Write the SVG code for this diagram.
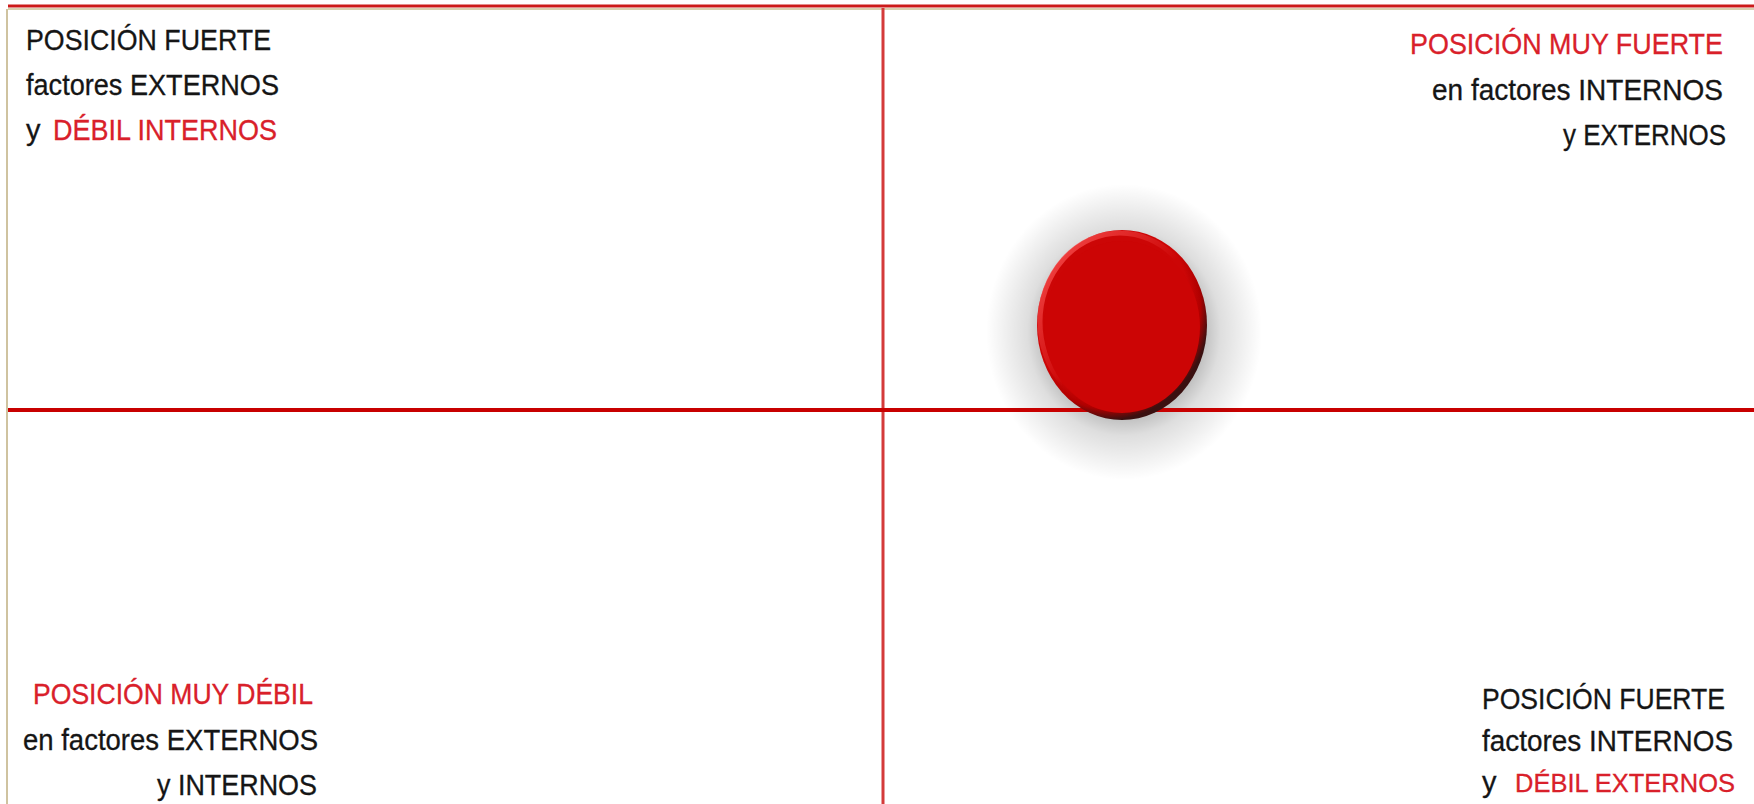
<svg xmlns="http://www.w3.org/2000/svg" width="1754" height="804" viewBox="0 0 1754 804">
<style>
  text { font-family: "Liberation Sans", Arial, sans-serif; font-size: 29px; fill: #151515; stroke: #151515; stroke-width: 0.3px; }
  .red { fill: #d9202a; stroke: #d9202a; }
</style>
<defs>
  <radialGradient id="glow" cx="0.5" cy="0.5" r="0.5">
    <stop offset="0.45" stop-color="#000" stop-opacity="0.38"/>
    <stop offset="0.7" stop-color="#000" stop-opacity="0.13"/>
    <stop offset="1" stop-color="#000" stop-opacity="0"/>
  </radialGradient>
  <radialGradient id="edge" cx="0.42" cy="0.4" r="0.6">
    <stop offset="0.8" stop-color="#cc0606"/>
    <stop offset="0.9" stop-color="#b00000"/>
    <stop offset="1" stop-color="#3a1010"/>
  </radialGradient>
  <linearGradient id="hi" x1="0" y1="0" x2="1" y2="1">
    <stop offset="0" stop-color="#ff5a5a" stop-opacity="0.9"/>
    <stop offset="0.5" stop-color="#ff5a5a" stop-opacity="0"/>
  </linearGradient>
</defs>
<rect width="1754" height="804" fill="#ffffff"/>
<g id="connectors">
  <line x1="8" y1="9" x2="1754" y2="9" stroke="#d8cfae" stroke-width="2"/>
  <line x1="8" y1="6" x2="1754" y2="6" stroke="#cc1a1a" stroke-width="3"/>
  <line x1="7" y1="9" x2="7" y2="804" stroke="#cfc3a0" stroke-width="2"/>
  <line x1="883" y1="8" x2="883" y2="804" stroke="#d43a3a" stroke-width="3"/>
  <line x1="8" y1="410" x2="1754" y2="410" stroke="#c80000" stroke-width="4"/>
</g>
<g id="marker">
  <ellipse cx="1124" cy="332" rx="138" ry="148" fill="url(#glow)"/>
  <line x1="1020" y1="410" x2="1220" y2="410" stroke="#c80000" stroke-width="4"/>
  <ellipse cx="1122" cy="325" rx="85" ry="95" fill="url(#edge)"/>
  <ellipse cx="1120" cy="322" rx="80" ry="89" fill="none" stroke="url(#hi)" stroke-width="5"/>
  <ellipse cx="1122" cy="327" rx="78" ry="86" fill="#cc0505"/>
</g>
<g id="q-top-left">
  <text x="26" y="50" textLength="245" lengthAdjust="spacingAndGlyphs">POSICIÓN  FUERTE</text>
  <text x="26" y="95" textLength="253" lengthAdjust="spacingAndGlyphs">factores EXTERNOS</text>
  <text x="26" y="140">y <tspan class="red" x="53" textLength="224" lengthAdjust="spacingAndGlyphs">DÉBIL INTERNOS</tspan></text>
</g>
<g id="q-top-right">
  <text class="red" x="1410" y="54" textLength="313" lengthAdjust="spacingAndGlyphs">POSICIÓN  MUY FUERTE</text>
  <text x="1432" y="100" textLength="291" lengthAdjust="spacingAndGlyphs">en factores INTERNOS</text>
  <text x="1563" y="145" textLength="163" lengthAdjust="spacingAndGlyphs">y EXTERNOS</text>
</g>
<g id="q-bottom-left">
  <text class="red" x="33" y="704" textLength="280" lengthAdjust="spacingAndGlyphs">POSICIÓN MUY DÉBIL</text>
  <text x="23" y="750" textLength="295" lengthAdjust="spacingAndGlyphs">en factores EXTERNOS</text>
  <text x="157" y="795" textLength="160" lengthAdjust="spacingAndGlyphs">y INTERNOS</text>
</g>
<g id="q-bottom-right">
  <text x="1482" y="709" textLength="243" lengthAdjust="spacingAndGlyphs">POSICIÓN  FUERTE</text>
  <text x="1482" y="751" textLength="251" lengthAdjust="spacingAndGlyphs">factores INTERNOS</text>
  <text x="1482" y="792">y</text>
  <text class="red" x="1515" y="792" style="font-size:25.5px" textLength="220" lengthAdjust="spacingAndGlyphs">DÉBIL EXTERNOS</text>
</g>
</svg>
